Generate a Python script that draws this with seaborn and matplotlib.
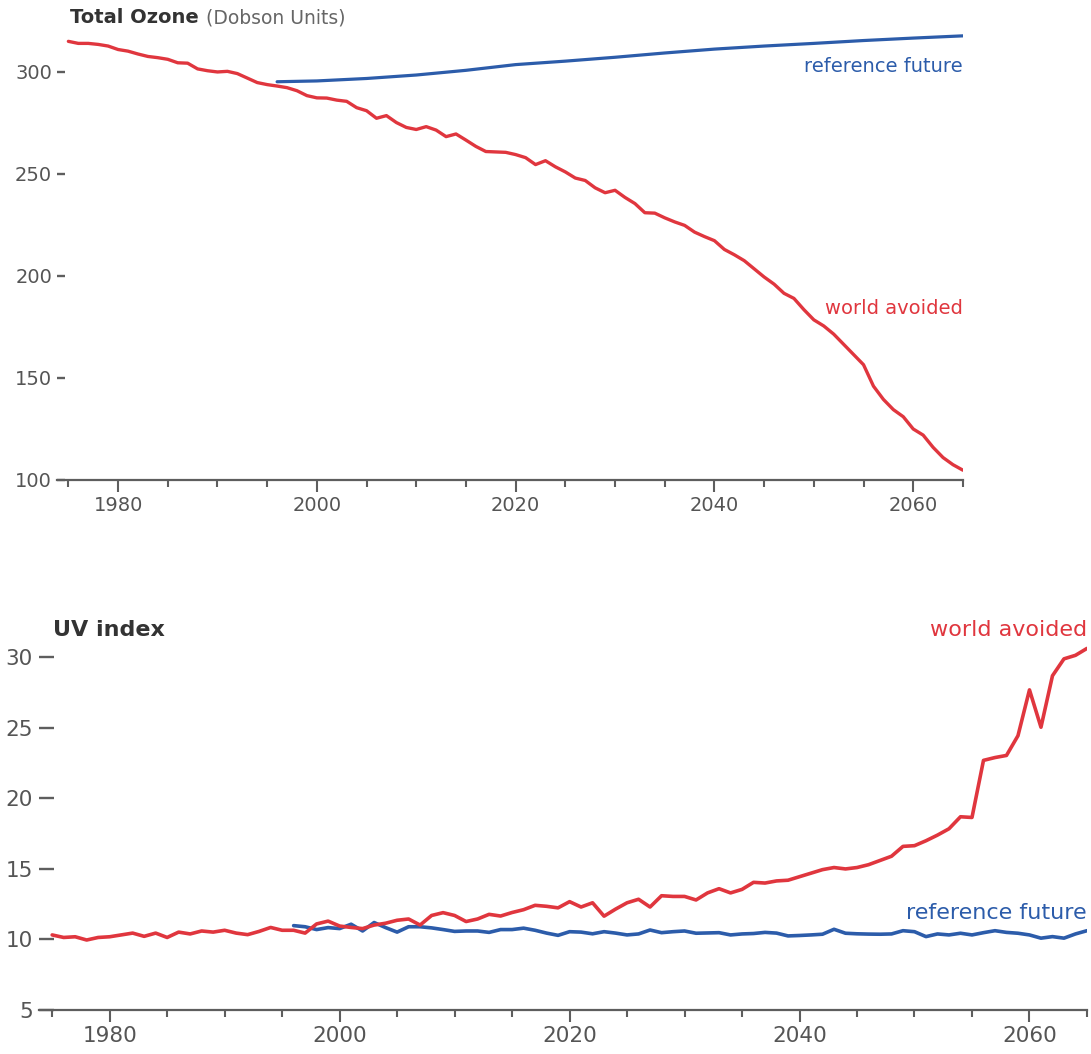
import matplotlib
matplotlib.use("Agg")
import matplotlib.pyplot as plt
import seaborn as sns
import numpy as np

RED = "#e0363e"
BLUE = "#2c5caa"
AXIS_GREY = "#5e5e5e"

# total ozone, world avoided, yearly 1975-2065 (Dobson units)
ozone_years = list(range(1975, 2066))
ozone_avoided = [
    315.0, 314.0, 314.0, 313.5, 312.7, 311.0, 310.2, 308.8, 307.6, 307.0,
    306.2, 304.5, 304.3, 301.5, 300.6, 300.0, 300.3, 299.2, 297.0, 294.8,
    293.8, 293.1, 292.3, 290.8, 288.4, 287.3, 287.2, 286.2, 285.6, 282.5,
    281.0, 277.3, 278.6, 275.2, 272.8, 271.8, 273.2, 271.5, 268.3, 269.6,
    266.6, 263.5, 261.0, 260.8, 260.6, 259.5, 258.0, 254.6, 256.5, 253.5,
    251.0, 248.0, 246.8, 243.2, 240.8, 242.0, 238.5, 235.5, 231.0, 230.8,
    228.5, 226.5, 224.8, 221.5, 219.3, 217.3, 213.0, 210.4, 207.5, 203.5,
    199.5, 196.0, 191.5, 189.0, 183.5, 178.5, 175.5, 171.5, 166.5, 161.5,
    156.5, 146.0, 139.5, 134.5, 131.0, 125.0, 122.0, 116.0, 111.0, 107.5,
    104.8,
]
# total ozone, reference future
ozone_ref_years = [1996, 2000, 2005, 2010, 2015, 2020, 2025, 2030,
                   2035, 2040, 2045, 2050, 2055, 2060, 2065]
ozone_ref = [295.2, 295.6, 296.8, 298.5, 300.8, 303.6, 305.3, 307.2,
             309.3, 311.2, 312.7, 314.0, 315.4, 316.6, 317.7]

# UV index, world avoided, yearly 1975-2065
uv_years = list(range(1975, 2066))
uv_avoided = [
    10.32, 10.14, 10.19, 9.96, 10.14, 10.19, 10.32, 10.45, 10.22, 10.45,
    10.14, 10.52, 10.39, 10.60, 10.52, 10.65, 10.45, 10.34, 10.57, 10.85,
    10.65, 10.65, 10.45, 11.10, 11.30, 10.95, 10.85, 10.77, 11.02, 11.15,
    11.36, 11.45, 11.02, 11.70, 11.90, 11.70, 11.27, 11.45, 11.78, 11.66,
    11.91, 12.11, 12.42, 12.35, 12.24, 12.68, 12.30, 12.60, 11.65, 12.15,
    12.60, 12.85, 12.30, 13.10, 13.05, 13.05, 12.80, 13.30, 13.60, 13.30,
    13.55, 14.05, 14.00, 14.15, 14.20, 14.45, 14.70, 14.95, 15.10, 15.00,
    15.10, 15.30, 15.60, 15.90, 16.60, 16.65, 17.00, 17.40, 17.85, 18.70,
    18.65, 22.70, 22.90, 23.05, 24.45, 27.70, 25.05, 28.70, 29.90, 30.15,
    30.64,
]
# UV index, reference future, yearly 1996-2065
uv_ref_years = list(range(1996, 2066))
uv_ref = [
    10.98, 10.90, 10.70, 10.84, 10.77, 11.08, 10.60, 11.20, 10.84, 10.52,
    10.90, 10.90, 10.82, 10.70, 10.57, 10.60, 10.60, 10.50, 10.70, 10.70,
    10.80, 10.65, 10.45, 10.29, 10.55, 10.52, 10.40, 10.55, 10.45, 10.32,
    10.39, 10.67, 10.48, 10.55, 10.60, 10.44, 10.46, 10.48, 10.32, 10.39,
    10.42, 10.50, 10.45, 10.25, 10.28, 10.32, 10.37, 10.72, 10.44, 10.40,
    10.38, 10.37, 10.39, 10.62, 10.55, 10.20, 10.39, 10.32, 10.44, 10.32,
    10.48, 10.62, 10.50, 10.44, 10.32, 10.09, 10.20, 10.09, 10.39, 10.62,
]

sns.set_theme(style="white")
plt.rcParams["font.family"] = ["DejaVu Sans"]

fig = plt.figure(figsize=(10.91, 10.54), dpi=100)
ax1 = fig.add_axes([0.0522, 0.5446, 0.8304, 0.4452])
ax2 = fig.add_axes([0.0357, 0.0418, 0.9606, 0.3612])

sns.lineplot(x=ozone_ref_years, y=ozone_ref, ax=ax1, color=BLUE, lw=2.3)
sns.lineplot(x=ozone_years, y=ozone_avoided, ax=ax1, color=RED, lw=2.4)
sns.lineplot(x=uv_ref_years, y=uv_ref, ax=ax2, color=BLUE, lw=2.6)
sns.lineplot(x=uv_years, y=uv_avoided, ax=ax2, color=RED, lw=2.6)


def style_axis(ax, ylim, yticks, fsize, ylen, ypad):
    ax.set_xlim(1973.85, 2065)
    ax.set_ylim(*ylim)
    ax.set_yticks(yticks)
    ax.set_xticks(range(1980, 2061, 20))
    ax.set_xticks(range(1975, 2066, 5), minor=True)
    ax.set_xlabel("")
    ax.set_ylabel("")
    for s in ["left", "top", "right"]:
        ax.spines[s].set_visible(False)
    ax.spines["bottom"].set_color(AXIS_GREY)
    ax.spines["bottom"].set_linewidth(1.6)
    ax.tick_params(axis="x", which="major", direction="out", length=8.5,
                   width=1.5, color=AXIS_GREY, labelsize=fsize,
                   labelcolor="#555555", pad=3, bottom=True)
    ax.tick_params(axis="x", which="minor", direction="out", length=5,
                   width=1.5, color=AXIS_GREY, bottom=True)
    ax.tick_params(axis="y", which="major", direction="in", length=ylen,
                   width=1.7, color=AXIS_GREY, labelsize=fsize,
                   labelcolor="#555555", pad=ypad, left=True)
    ax.grid(False)


style_axis(ax1, (100, 330), [100, 150, 200, 250, 300], 14, 6, 3.5)
style_axis(ax2, (5, 32), [5, 10, 15, 20, 25, 30], 15.5, 10.5, 4.3)

# panel titles
t1 = fig.text(70 / 1091, 1 - 27 / 1054, "Total Ozone", fontsize=14,
              fontweight="bold", color="#333333", va="bottom", ha="left")
fig.canvas.draw()
ax1.annotate("(Dobson Units)", xy=(1, 0), xycoords=t1, xytext=(5, 0),
             textcoords="offset points", fontsize=13.5, color="#666666",
             va="bottom", ha="left", annotation_clip=False)
fig.text(53 / 1091, 1 - 640 / 1054, "UV index", fontsize=16,
         fontweight="bold", color="#333333", va="bottom", ha="left")

# series labels
ax1.text(2065, 300.0, "reference future", color=BLUE, fontsize=14,
         ha="right", va="baseline")
ax1.text(2065, 181.4, "world avoided", color=RED, fontsize=14,
         ha="right", va="baseline")
ax2.text(2065, 31.5, "world avoided", color=RED, fontsize=16,
         ha="right", va="baseline", clip_on=False)
ax2.text(2065, 11.45, "reference future", color=BLUE, fontsize=16,
         ha="right", va="baseline")

fig.savefig("out.png", dpi=100)
